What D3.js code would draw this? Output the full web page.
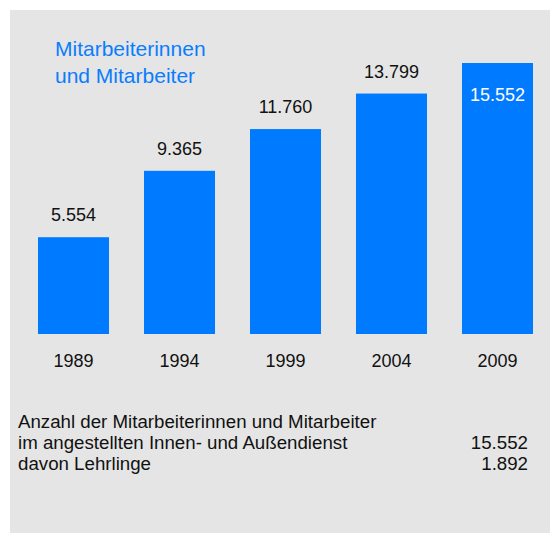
<!DOCTYPE html>
<html>
<head>
<meta charset="utf-8">
<script src="https://cdn.jsdelivr.net/npm/d3@7"></script>
<style>
  body { margin: 0; background: #fff; }
  text { font-family: "Liberation Sans", Arial, sans-serif; }
</style>
</head>
<body>
<div id="chart"></div>
<script>
var years = ['1989', '1994', '1999', '2004', '2009'];
var staff = [5554, 9365, 11760, 13799, 15552];
var titleLines = ['Mitarbeiterinnen', 'und Mitarbeiter'];
var noteLines = ['Anzahl der Mitarbeiterinnen und Mitarbeiter', 'im angestellten Innen- und Außendienst', 'davon Lehrlinge'];
var noteValues = [null, 15552, 1892];

var width = 550, height = 533;
var blue = '#007bff';
var fmt = function (v) { return d3.format(',')(v).replace(/,/g, '.'); };

var svg = d3.select('#chart')
    .append('svg')
    .attr('width', width)
    .attr('height', height);

svg.append('rect')
    .attr('x', 10)
    .attr('y', 10)
    .attr('width', width - 10)
    .attr('height', height - 10)
    .attr('fill', '#e5e5e5');

var x = d3.scaleBand()
    .domain(years)
    .range([38, 533])
    .paddingInner(0.33)
    .paddingOuter(0);

var y = d3.scaleLinear()
    .domain([0, d3.max(staff)])
    .range([334, 63]);

var data = years.map(function (yr, i) { return { year: yr, value: staff[i] }; });
var last = data.length - 1;

svg.selectAll('.bar')
    .data(data)
    .enter()
    .append('rect')
    .attr('class', 'bar')
    .attr('x', d => x(d.year))
    .attr('y', d => y(d.value))
    .attr('width', x.bandwidth())
    .attr('height', d => y(0) - y(d.value))
    .attr('fill', blue);

// value labels, the highest one sits inside its bar in white
svg.selectAll('.val')
    .data(data)
    .enter()
    .append('text')
    .attr('class', 'val')
    .attr('x', d => x(d.year) + x.bandwidth() / 2)
    .attr('y', (d, i) => i === last ? y(d.value) + 38 : y(d.value) - 16)
    .attr('text-anchor', 'middle')
    .attr('font-size', '18px')
    .attr('fill', (d, i) => i === last ? '#fff' : '#111')
    .text(d => fmt(d.value));

svg.selectAll('.year')
    .data(years)
    .enter()
    .append('text')
    .attr('class', 'year')
    .attr('x', d => x(d) + x.bandwidth() / 2)
    .attr('y', 367)
    .attr('text-anchor', 'middle')
    .attr('font-size', '18px')
    .attr('fill', '#111')
    .text(d => d);

svg.selectAll('.title')
    .data(titleLines)
    .enter()
    .append('text')
    .attr('class', 'title')
    .attr('x', 55)
    .attr('y', (d, i) => 56 + i * 26.5)
    .attr('font-size', '21px')
    .attr('fill', '#0a7dff')
    .text(d => d);

var noteY = function (i) { return 428 + i * 21; };

svg.selectAll('.note')
    .data(noteLines)
    .enter()
    .append('text')
    .attr('class', 'note')
    .attr('x', 18)
    .attr('y', (d, i) => noteY(i))
    .attr('font-size', '18.7px')
    .attr('fill', '#111')
    .text(d => d);

svg.selectAll('.noteval')
    .data(noteValues)
    .enter()
    .filter(d => d !== null)
    .append('text')
    .attr('class', 'noteval')
    .attr('x', 528)
    .attr('y', d => noteY(noteValues.indexOf(d)))
    .attr('text-anchor', 'end')
    .attr('font-size', '18.7px')
    .attr('fill', '#111')
    .text(d => fmt(d));
</script>
</body>
</html>
